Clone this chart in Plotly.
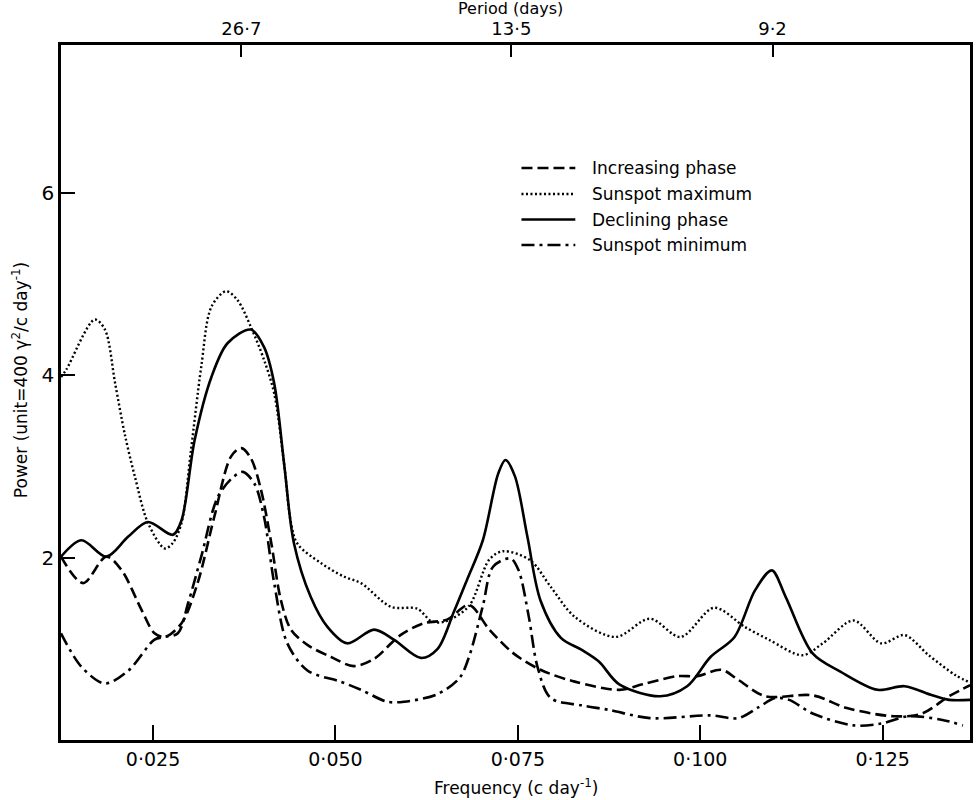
import plotly.graph_objects as go

# ---------------- data ----------------
freq_inc = [0.01238, 0.0154, 0.0186, 0.0207, 0.0234, 0.0252, 0.0266, 0.0289, 0.0311, 0.0334,
            0.0357, 0.0371, 0.0384, 0.0398, 0.0412, 0.0425, 0.0439, 0.0462, 0.0494, 0.0525,
            0.0553, 0.0589, 0.0621, 0.0653, 0.0683, 0.0711, 0.0744, 0.0781, 0.0828, 0.0889,
            0.0921, 0.0968, 0.0996, 0.1029, 0.1052, 0.1089, 0.1154, 0.1201, 0.1266, 0.1304,
            0.1341, 0.1370]
pow_inc = [2.01, 1.72, 2.01, 1.86, 1.43, 1.17, 1.13, 1.28, 1.72, 2.45,
           3.11, 3.20, 3.09, 2.74, 2.16, 1.54, 1.21, 1.04, 0.91, 0.81,
           0.89, 1.15, 1.28, 1.32, 1.48, 1.21, 0.95, 0.77, 0.64, 0.55,
           0.61, 0.70, 0.70, 0.77, 0.66, 0.48, 0.49, 0.35, 0.26, 0.29,
           0.48, 0.60]

freq_max = [0.01238, 0.0131, 0.0170, 0.0184, 0.0198, 0.0211, 0.0225, 0.0243, 0.0266, 0.0277,
            0.0289, 0.0302, 0.0316, 0.0330, 0.0350, 0.0366, 0.0384, 0.0402, 0.0416, 0.0430,
            0.0439, 0.0448, 0.0480, 0.0512, 0.0535, 0.0576, 0.0612, 0.0632, 0.0651, 0.0683,
            0.0711, 0.0730, 0.0767, 0.0795, 0.0828, 0.0884, 0.0931, 0.0973, 0.1019, 0.1061,
            0.1094, 0.1140, 0.1168, 0.1210, 0.1248, 0.1280, 0.1313, 0.1350, 0.1370]
pow_max = [3.98, 4.06, 4.61, 4.50, 3.91, 3.36, 2.89, 2.38, 2.10, 2.16,
           2.38, 3.18, 4.09, 4.75, 4.92, 4.82, 4.53, 4.17, 3.80, 3.00,
           2.38, 2.15, 1.94, 1.79, 1.72, 1.46, 1.44, 1.30, 1.30, 1.47,
           1.98, 2.07, 1.97, 1.68, 1.35, 1.13, 1.33, 1.13, 1.45, 1.24,
           1.10, 0.93, 1.06, 1.31, 1.06, 1.15, 0.93, 0.71, 0.63]

freq_dec = [0.01238, 0.0152, 0.0186, 0.0216, 0.0243, 0.0277, 0.0289, 0.0307, 0.0330, 0.0352,
            0.0384, 0.0402, 0.0416, 0.0430, 0.0443, 0.0466, 0.0489, 0.0516, 0.0553, 0.0580,
            0.0617, 0.0640, 0.0662, 0.0680, 0.0702, 0.0723, 0.0733, 0.0746, 0.0763, 0.0781,
            0.0809, 0.0837, 0.0861, 0.0889, 0.0945, 0.0982, 0.1014, 0.1047, 0.1075, 0.1098,
            0.1117, 0.1154, 0.1192, 0.1243, 0.1280, 0.1318, 0.1341, 0.1370]
pow_dec = [2.01, 2.19, 2.01, 2.23, 2.39, 2.25, 2.41, 3.29, 3.98, 4.35,
           4.50, 4.31, 3.91, 3.00, 2.16, 1.57, 1.24, 1.06, 1.21, 1.10,
           0.90, 1.00, 1.40, 1.75, 2.19, 2.92, 3.07, 2.89, 2.23, 1.53,
           1.12, 0.99, 0.86, 0.61, 0.48, 0.59, 0.91, 1.13, 1.64, 1.86,
           1.57, 0.95, 0.75, 0.55, 0.59, 0.49, 0.44, 0.44]

freq_min = [0.01238, 0.0152, 0.0184, 0.0216, 0.0252, 0.0266, 0.0284, 0.0298, 0.0316, 0.0339,
            0.0361, 0.0373, 0.0389, 0.0402, 0.0416, 0.0434, 0.0462, 0.0507, 0.0535, 0.0571,
            0.0594, 0.0639, 0.0670, 0.0683, 0.0702, 0.0716, 0.0740, 0.0751, 0.0765, 0.0777,
            0.0795, 0.0837, 0.0875, 0.0931, 0.1014, 0.1052, 0.1080, 0.1103, 0.1122, 0.1154,
            0.1210, 0.1248, 0.1285, 0.1332, 0.1360]
pow_min = [1.17, 0.80, 0.62, 0.76, 1.10, 1.13, 1.17, 1.50, 2.01, 2.67,
           2.89, 2.94, 2.81, 2.45, 1.72, 1.06, 0.76, 0.64, 0.55, 0.42,
           0.42, 0.50, 0.68, 0.91, 1.47, 1.90, 1.99, 1.86, 1.35, 0.80,
           0.46, 0.38, 0.33, 0.24, 0.27, 0.24, 0.36, 0.46, 0.44, 0.29,
           0.16, 0.18, 0.26, 0.22, 0.16]

x_ticks = [0.025, 0.050, 0.075, 0.100, 0.125]
x_ticklabels = ["0·025", "0·050", "0·075", "0·100", "0·125"]
y_ticks = [2, 4, 6]
period_tick_freq = [0.0371, 0.0741, 0.1099]   # where the period ticks sit on the frequency scale
period_labels = ["26·7", "13·5", "9·2"]

series_names = ["Increasing phase", "Sunspot maximum", "Declining phase", "Sunspot minimum"]

# ---------------- figure ----------------
FONT = "'DejaVu Sans', sans-serif"
W, H = 976, 800
ML, MR, MT, MB = 61, 3, 45, 60
PW, PH = W - ML - MR, H - MT - MB
XR = [0.01238, 0.13697]
YR = [0, 7.62]


def px_x(px):
    return (px - ML) / PW


def px_y(py):
    return (H - MB - py) / PH


line_styles = [
    dict(color="black", width=2.6, dash="11px,5px"),
    dict(color="black", width=2.4, dash="2px,2.5px"),
    dict(color="black", width=2.6),
    dict(color="black", width=2.6, dash="13px,5px,3px,5px"),
]
series = [(freq_inc, pow_inc), (freq_max, pow_max), (freq_dec, pow_dec), (freq_min, pow_min)]

fig = go.Figure()
for name, (fx, py), ln in zip(series_names, series, line_styles):
    fig.add_trace(go.Scatter(x=fx, y=py, mode="lines", name=name, showlegend=False,
                             line=dict(shape="spline", smoothing=0.9, **ln)))

# invisible trace to activate the top (period) axis
fig.add_trace(go.Scatter(x=XR, y=[None, None], xaxis="x2", mode="lines",
                         showlegend=False, hoverinfo="skip"))

fig.update_layout(
    width=W, height=H,
    margin=dict(l=ML, r=MR, t=MT, b=MB),
    paper_bgcolor="white", plot_bgcolor="white",
    font=dict(family=FONT, size=17, color="black"),
    showlegend=False,
    xaxis=dict(range=XR, tickvals=x_ticks, ticktext=x_ticklabels,
               ticks="inside", ticklen=15, tickwidth=2, tickcolor="black",
               showline=True, linecolor="black", linewidth=2.5,
               showgrid=False, zeroline=False, mirror=False,
               tickfont=dict(size=19)),
    xaxis2=dict(range=XR, overlaying="x", side="top",
                tickvals=period_tick_freq, ticktext=period_labels,
                ticks="inside", ticklen=12, tickwidth=2, tickcolor="black",
                showline=True, linecolor="black", linewidth=2.5,
                showgrid=False, zeroline=False, tickfont=dict(size=18)),
    yaxis=dict(range=YR, tickvals=y_ticks, ticktext=[str(v) for v in y_ticks],
               ticks="inside", ticklen=14, tickwidth=2, tickcolor="black",
               showline=True, linecolor="black", linewidth=2.5, mirror=True,
               showgrid=False, zeroline=False, tickfont=dict(size=20)),
)

# hand-drawn legend (long line samples as in the reference)
legend_rows = [168, 194, 219.5, 245]
for name, ln, ry in zip(series_names, line_styles, legend_rows):
    fig.add_shape(type="line", xref="paper", yref="paper",
                  x0=px_x(523), x1=px_x(577), y0=px_y(ry), y1=px_y(ry),
                  line=ln)
    fig.add_annotation(text=name, xref="paper", yref="paper",
                       x=px_x(592), y=px_y(ry), xanchor="left", yanchor="middle",
                       showarrow=False, font=dict(size=17))

fig.add_annotation(text="Frequency (c day<sup>-1</sup>)", xref="paper", yref="paper",
                   x=px_x(518), y=px_y(787), xanchor="center", yanchor="middle",
                   showarrow=False, font=dict(size=17))
fig.add_annotation(text="Period (days)", xref="paper", yref="paper",
                   x=px_x(512), y=px_y(9), xanchor="center", yanchor="middle",
                   showarrow=False, font=dict(size=16))
fig.add_annotation(text="Power (unit=400 γ<sup>2</sup>/c day<sup>-1</sup>)",
                   xref="paper", yref="paper", x=px_x(20), y=px_y(380),
                   xanchor="center", yanchor="middle", textangle=-90,
                   showarrow=False, font=dict(size=17))

fig.write_html("out.html")
